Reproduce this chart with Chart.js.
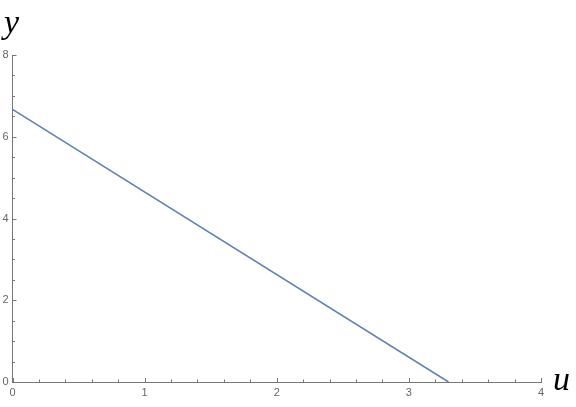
<!DOCTYPE html>
<html>
<head>
<meta charset="utf-8">
<script src="https://cdn.jsdelivr.net/npm/chart.js@4/dist/chart.umd.min.js"></script>
<style>
  html, body { margin: 0; padding: 0; background: #fff; }
  #wrap { width: 576px; height: 407px; position: relative; }
</style>
</head>
<body>
<div id="wrap"><canvas id="c"></canvas></div>
<script>
// line end points
const uValues = [0, 3.3];
const yValues = [6.67, 0];

const xTicks = [0, 1, 2, 3, 4];
const yTicks = [0, 2, 4, 6, 8];

const AXIS = '#777';
const LABEL = '#666';

// Mathematica style ticks: pointing inward, major + minor
const inwardTicks = {
  id: 'inwardTicks',
  afterDraw(chart) {
    const { ctx, scales: { x, y } } = chart;
    ctx.save();
    ctx.strokeStyle = AXIS;
    ctx.lineWidth = 1;
    const y0 = y.getPixelForValue(0), x0 = x.getPixelForValue(0);
    for (let i = 0; i <= 20; i++) {
      const px = Math.round(x.getPixelForValue(i * 0.2)) + 0.5;
      const len = i % 5 === 0 ? 4 : 2.5;
      ctx.beginPath(); ctx.moveTo(px, y0); ctx.lineTo(px, y0 - len); ctx.stroke();
    }
    for (let i = 0; i <= 16; i++) {
      const py = Math.round(y.getPixelForValue(i * 0.5)) + 0.5;
      const len = i % 4 === 0 ? 4 : 2.5;
      ctx.beginPath(); ctx.moveTo(x0, py); ctx.lineTo(x0 + len, py); ctx.stroke();
    }
    // axis labels
    ctx.fillStyle = '#000';
    ctx.font = 'italic 34px "Liberation Serif", "DejaVu Serif", serif';
    ctx.textBaseline = 'alphabetic';
    ctx.textAlign = 'left';
    ctx.fillText('y', 4, 33);
    ctx.fillText('u', 553, 390);
    ctx.restore();
  }
};

new Chart(document.getElementById('c'), {
  type: 'scatter',
  data: {
    datasets: [{
      data: uValues.map((u, i) => ({ x: u, y: yValues[i] })),
      showLine: true,
      borderColor: '#5E81B5',
      borderWidth: 1.6,
      pointRadius: 0,
      fill: false
    }]
  },
  options: {
    responsive: true, maintainAspectRatio: false, animation: false,
    layout: { padding: { left: 2, right: 35, top: 55, bottom: 2 } },
    plugins: { legend: { display: false }, tooltip: { enabled: false } },
    scales: {
      x: {
        type: 'linear', min: 0, max: 4,
        grid: { display: false, drawTicks: false },
        border: { display: true, color: AXIS, width: 1 },
        afterBuildTicks: s => { s.ticks = xTicks.map(v => ({ value: v })); },
        ticks: { color: LABEL, padding: 4, font: { size: 11, family: 'Liberation Sans, Arial, sans-serif' }, maxRotation: 0 },
        afterFit: s => { s.height = 407 - 382 - 2; }
      },
      y: {
        type: 'linear', min: 0, max: 8,
        grid: { display: false, drawTicks: false },
        border: { display: true, color: AXIS, width: 1 },
        afterBuildTicks: s => { s.ticks = yTicks.map(v => ({ value: v })); },
        ticks: { color: LABEL, padding: 4, font: { size: 11, family: 'Liberation Sans, Arial, sans-serif' } },
        afterFit: s => { s.width = 12.5 - 2; }
      }
    }
  },
  plugins: [inwardTicks]
});
</script>
</body>
</html>
